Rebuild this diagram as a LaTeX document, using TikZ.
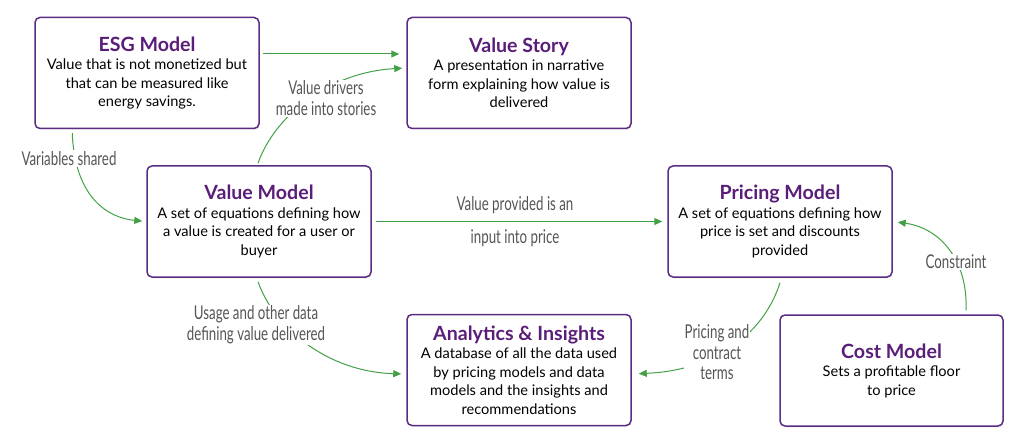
\documentclass[tikz,border=0pt]{standalone}
\usepackage{fontspec}
\setmainfont{Lato}
\newfontfamily\lblfont[FakeStretch=0.7]{Lato}
\usetikzlibrary{arrows.meta,calc,shadows}
\definecolor{ttl}{HTML}{5A1E79}
\definecolor{bdr}{HTML}{5B2C83}
\definecolor{grn}{HTML}{44A047}
\definecolor{lblc}{HTML}{555555}
\newcommand\boxtitle[1]{{\fontsize{19.6}{21}\selectfont\bfseries\color{ttl}#1}}
\begin{document}
\begin{tikzpicture}[x=1pt,y=-1pt,
  box/.style={draw=bdr, line width=1.5pt, rounded corners=5pt, fill=white,
    minimum width=224pt, minimum height=111pt, align=center, inner sep=0pt,
    font=\fontsize{14.6}{18.5}\selectfont,
    drop shadow={opacity=0.12, shadow xshift=1pt, shadow yshift=-1.5pt}},
  conn/.style={draw=grn, line width=1pt, -{Triangle[length=8pt,width=7pt]}},
  lbl/.style={font=\lblfont\fontsize{19}{21}\selectfont, text=lblc, align=center, inner sep=1pt},
  lblw/.style={lbl, fill=white}]
\useasboundingbox (0,0) rectangle (1024,446);

\node[box] (esg) at (147,73) {\boxtitle{ESG Model}\\ Value that is not monetized but\\ that can be measured like\\ energy savings.};
\node[box] (story) at (519,73) {\boxtitle{Value Story}\\ A presentation in narrative\\ form explaining how value is\\ delivered};
\node[box] (vm) at (259,221.5) {\boxtitle{Value Model}\\ A set of equations defining how\\ a value is created for a user or\\ buyer};
\node[box] (pm) at (780,221.5) {\boxtitle{Pricing Model}\\ A set of equations defining how\\ price is set and discounts\\ provided};
\node[box] (ai) at (519,370) {\boxtitle{Analytics \& Insights}\\ A database of all the data used\\ by pricing models and data\\ models and the insights and\\ recommendations};
\node[box, minimum width=223pt] (cm) at (891.5,370.5) {\boxtitle{Cost Model}\\ Sets a profitable floor\\ to price};

% connectors
\draw[conn, shorten <=3pt, shorten >=7pt] ([yshift=19pt]esg.east) -- ([yshift=19pt]story.west);
\draw[conn, shorten >=4pt] ($(vm.north)+(-1,-2)$) .. controls (275,115) and (330,72) .. ([yshift=5pt]story.west);
\draw[conn, shorten >=4pt] ($(esg.south west)+(38,4)$) .. controls (75,200) and (110,218) .. (vm.west);
\draw[conn, shorten <=4pt, shorten >=5pt] (vm.east) -- (pm.west);
\draw[conn, shorten >=5pt] ($(vm.south)+(-1,4)$) .. controls (275,330) and (330,372) .. ([yshift=-4pt]ai.west);
\draw[conn, shorten >=7pt] ($(pm.south)+(0,5)$) .. controls (765,330) and (720,370) .. ([yshift=-4pt]ai.east);
\draw[conn, shorten >=5pt] ($(cm.north)+(74.5,-4)$) .. controls (968,260) and (940,228) .. (pm.east);

% labels
\node[lblw] (l1) at (326,98.5) {Value drivers\\ made into stories};
\node[lblw] (l2) at (69,158.5) {Variables shared};
\node[lbl] (l3a) at (515,205) {Value provided is an};
\node[lbl] (l3b) at (515,238) {input into price};
\node[lblw] (l4) at (256,325) {Usage and other data\\ defining value delivered};
\node[lblw, font=\lblfont\fontsize{19}{20.5}\selectfont] (l5) at (717,352.5) {Pricing and\\ contract\\ terms};
\node[lblw] (l6) at (956,262) {Constraint};
\end{tikzpicture}
\end{document}
